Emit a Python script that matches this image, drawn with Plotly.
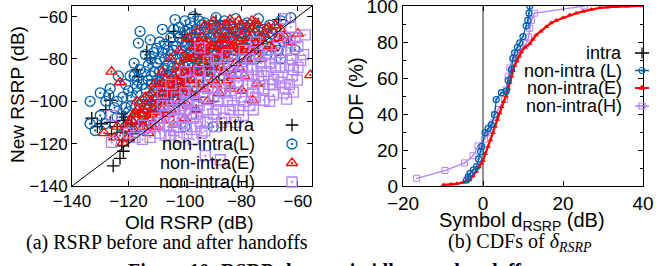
import plotly.graph_objects as go

W, H = 656, 266

# ---------------- data: scatter (a) ----------------
intra_x = [-133, -129.5, -126.5, -126.5, -124, -122.4, -121.2, -121.8, -126, -121.8, -122.4, -120, -123, -125.4, -121.8, -118.3, -118.8, -131, -128,
           -113.5, -112.3, -117, -116.4, -105.8, -104, -101, -100, -96.4, -66.8, -89, -97.6,
           -112, -108, -104, -99, -95, -92, -88, -85, -82, -78, -74, -96, -90, -84, -110, -102]
intra_y = [-108, -110.6, -99.5, -110, -112, -105.9, -107.5, -109, -115.4, -114.6, -121, -118.7, -127, -130.5, -123.6, -115.4, -110.6, -112, -104,
           -76.5, -79.6, -85.2, -88.4, -71.8, -67, -70, -68.5, -59, -61.4, -62, -72,
           -100, -95, -92, -88, -98, -84, -90, -78, -86, -82, -76, -105, -100, -94, -105, -102]

L_pts = [(-133.6, -100), (-130, -106.7), (-131.8, -113.8), (-133.6, -110.6), (-128.3, -110.6), (-124, -107.5), (-123, -116.2),
         (-120, -105), (-126.5, -94), (-123.6, -88), (-119.4, -88), (-116.5, -72.5), (-115.9, -67), (-112.3, -71), (-110, -75),
         (-107.8, -85), (-110, -82), (-103.5, -61.4), (-108, -66), (-100, -62), (-97, -60), (-93, -63), (-89, -60.5), (-86, -64),
         (-82, -61), (-78, -63), (-74, -61), (-70, -64), (-66, -62), (-62.5, -60.5), (-61, -75.7), (-64, -70), (-68, -74), (-71, -78),
         (-66, -80), (-75, -68), (-130, -96), (-128, -100), (-125, -103), (-117, -96), (-121, -92), (-118, -82), (-114, -78),
         (-116, -102), (-115, -92), (-113, -98), (-112, -88), (-110, -94), (-108, -90), (-107, -80), (-106, -96), (-105, -86),
         (-104, -76), (-103, -92), (-102, -82), (-101, -72), (-100, -88), (-99, -78), (-98, -68), (-97, -84), (-96, -74), (-95, -90),
         (-94, -70), (-93, -80), (-92, -66), (-91, -86), (-90, -76), (-89, -70), (-88, -82), (-87, -66), (-86, -74), (-84, -70),
         (-83, -78), (-82, -67), (-80, -72), (-79, -80), (-77, -68), (-76, -76), (-73, -70), (-71, -72), (-69, -68), (-118, -108),
         (-114, -106), (-112, -110), (-109, -104), (-106, -100), (-111, -97), (-108, -77), (-105, -70), (-102, -65), (-99, -73),
         (-96, -66), (-94, -77), (-91, -70), (-88, -74), (-85, -68), (-81, -75), (-78, -71), (-114, -86), (-112, -80), (-109, -91),
         (-106, -83), (-103, -87), (-100, -79), (-97, -93), (-95, -82), (-92, -90), (-89, -86), (-86, -80), (-84, -88), (-101, -97),
         (-104, -100), (-99, -95), (-90, -112), (-100, -112), (-116, -112),
         (-122, -98), (-119, -102), (-117, -90), (-116, -85), (-114, -94), (-113, -83), (-111, -77), (-111, -102), (-109, -86),
         (-109, -72), (-107, -98), (-107, -73), (-106, -88), (-105, -78), (-104, -66), (-104, -95), (-103, -80), (-102, -70),
         (-101, -90), (-100, -74), (-100, -67), (-99, -83), (-98, -76), (-98, -63), (-97, -70), (-96, -80), (-95, -68), (-95, -62),
         (-94, -84), (-93, -74), (-92, -78), (-91, -64), (-90, -82), (-90, -68), (-89, -78), (-88, -64), (-87, -72), (-86, -68),
         (-85, -76), (-84, -64), (-83, -70), (-81, -66), (-80, -78), (-79, -68), (-78, -75), (-77, -64), (-76, -72), (-75, -80),
         (-74, -67), (-72, -66), (-72, -75), (-70, -70), (-68, -66), (-67, -76), (-65, -72), (-120, -95), (-115, -100), (-124, -100),
         (-127, -97), (-118, -88), (-112, -92), (-108, -95), (-119, -110), (-121, -112), (-115, -107), (-110, -100),
         (-113, -90), (-111, -86), (-109, -80), (-107, -88), (-106, -76), (-105, -92), (-104, -84), (-103, -74), (-102, -94),
         (-101, -78), (-100, -84), (-99, -66), (-98, -88), (-97, -78), (-96, -70), (-95, -78), (-94, -64), (-93, -86), (-92, -72),
         (-91, -80), (-90, -64), (-89, -74), (-88, -70), (-87, -80), (-86, -62), (-85, -72), (-83, -66), (-82, -76), (-80, -68),
         (-79, -64), (-117, -93), (-119, -98), (-121, -103), (-113, -104), (-110, -90)]
L_x = [p[0] for p in L_pts]
L_y = [p[1] for p in L_pts]

E_pts = [(-126, -86), (-123, -91), (-128.6, -115), (-122, -119.5), (-124, -112), (-120, -117), (-118, -113), (-116, -110),
         (-115, -104), (-113, -108), (-112, -100), (-111, -113), (-110, -105), (-109, -96), (-108, -109), (-107, -100), (-106, -92),
         (-105, -104), (-104, -88), (-103, -97), (-101, -84), (-100, -94), (-99, -102), (-98, -80), (-97, -90), (-96, -98), (-95, -76),
         (-94, -86), (-93, -94), (-92, -72), (-91, -82), (-90, -90), (-88, -68), (-87, -78), (-86, -86), (-85, -64), (-84, -94),
         (-83, -74), (-82, -82), (-81, -62), (-80, -70), (-79, -88), (-78, -66), (-77, -76), (-75, -63), (-74, -72), (-73, -80),
         (-71, -66), (-69, -75), (-68, -64), (-67, -70), (-65, -69), (-84, -61.4), (-89.9, -62.2), (-76.3, -62), (-70.4, -65),
         (-55.6, -87.6), (-74.5, -91.6), (-79.8, -94.8), (-87, -71), (-73.3, -70), (-81.6, -76.5), (-76, -99.5), (-80, -95),
         (-118, -106), (-114, -98), (-111, -92), (-108, -86), (-105, -80), (-102, -76), (-99, -70), (-96, -67), (-93, -64),
         (-117, -100), (-110, -98), (-107, -94), (-102, -90), (-98, -86), (-94, -80), (-90, -74), (-86, -70), (-96, -104),
         (-92, -100), (-88, -96), (-85, -90), (-100, -108), (-104, -111), (-113, -115), (-125, -117), (-63, -72), (-120, -110),
         (-121, -114), (-119, -109), (-117, -104), (-115, -112), (-114, -102), (-112, -106), (-110, -112), (-109, -100), (-108, -104),
         (-106, -106), (-105, -96), (-104, -92), (-103, -84), (-102, -100), (-101, -88), (-100, -80), (-99, -90), (-98, -96),
         (-97, -74), (-96, -84), (-95, -92), (-94, -70), (-93, -76), (-92, -86), (-91, -66), (-90, -80), (-89, -92), (-88, -74),
         (-87, -84), (-86, -64), (-85, -80), (-84, -68), (-83, -88), (-82, -72), (-81, -84), (-80, -64), (-79, -74), (-78, -80),
         (-77, -70), (-76, -66), (-75, -76), (-74, -64), (-72, -68), (-70, -74), (-66, -66), (-60, -68),
         (-116, -106), (-114, -110), (-112, -96), (-111, -104), (-109, -92), (-107, -90), (-106, -98), (-104, -96), (-103, -90),
         (-101, -94), (-100, -86), (-99, -80), (-97, -86), (-96, -78), (-95, -72), (-93, -82), (-92, -78), (-91, -74), (-89, -84),
         (-88, -78), (-86, -76), (-84, -74), (-82, -66), (-80, -76)]
E_x = [p[0] for p in E_pts]
E_y = [p[1] for p in E_pts]

H_pts = [(-57.4, -68.6), (-62.7, -72.4), (-61.6, -85), (-59, -80.7), (-60.2, -90), (-64.5, -93.8), (-68.7, -97), (-72, -99.5),
         (-61.6, -95.7), (-68.6, -89.7), (-75.8, -104), (-79.3, -106.7), (-84, -104), (-88.7, -112), (-94.6, -109.5), (-99.3, -115.4),
         (-104, -113.8), (-109, -115), (-112.3, -117), (-114.7, -111.4), (-92.8, -125.7), (-87.5, -127.6), (-126, -106.7),
         (-126, -119.4), (-117.7, -117), (-94.7, -74.8), (-91.7, -81), (-64.5, -61), (-66, -77), (-63, -83), (-70, -82), (-72, -88),
         (-66, -91), (-74, -78), (-76, -85), (-78, -92), (-80, -98), (-82, -88), (-84, -95), (-86, -84), (-88, -90), (-90, -98),
         (-92, -104), (-94, -92), (-96, -100), (-98, -106), (-100, -96), (-102, -104), (-104, -108), (-106, -112), (-108, -102),
         (-110, -108), (-80, -80), (-78, -84), (-83, -102), (-86, -108), (-90, -106), (-96, -112), (-101, -110), (-107, -116),
         (-111, -112), (-74, -94), (-70, -92), (-68, -84), (-76, -96), (-82, -110), (-88, -100), (-92, -94), (-98, -90), (-103, -98),
         (-105, -92), (-84, -86), (-87, -94), (-73, -86), (-79, -76), (-75, -72), (-71, -76), (-67, -70), (-60, -74), (-58, -78),
         (-62, -88), (-64, -99), (-70, -100), (-77, -102), (-81, -91), (-93, -114), (-97, -118), (-102, -117), (-115, -118),
         (-108, -96), (-100, -86), (-95, -86), (-89, -80), (-85, -78), (-62.5, -65), (-120, -115),
         (-109, -110), (-107, -106), (-106, -102), (-105, -116), (-103, -112), (-102, -108), (-100, -104), (-99, -100), (-98, -112),
         (-97, -96), (-96, -106), (-95, -102), (-94, -115), (-93, -98), (-92, -110), (-91, -88), (-90, -94), (-89, -104), (-88, -84),
         (-87, -110), (-86, -96), (-85, -100), (-84, -90), (-83, -82), (-82, -96), (-81, -104), (-80, -86), (-79, -100), (-78, -88),
         (-77, -80), (-76, -92), (-75, -98), (-74, -88), (-73, -82), (-72, -94), (-71, -86), (-70, -78), (-69, -92), (-68, -80),
         (-67, -88), (-66, -84), (-65, -96), (-64, -76), (-63, -92), (-62, -80), (-61, -70), (-60, -84), (-97, -108), (-101, -102),
         (-104, -104)]
H_x = [p[0] for p in H_pts]
H_y = [p[1] for p in H_pts]

diag = [-140, -55]

# ---------------- data: CDF (b) ----------------
cL_x = [-4.1, -3.7, -3.25, -2.4, -1.6, -1.1, -0.6, -0.3, 0.5, 1.3, 2.1, 2.9, 3.3, 4.6, 5.8, 6.3, 7.1, 7.5, 7.9, 8.6, 9.2, 10, 10.8, 11.2, 11.5, 11.7]
cL_y = [3.4, 5, 7, 9, 10.8, 15, 19, 22, 29.6, 32, 34, 39.7, 48, 51.8, 52.7, 58.7, 64.8, 71, 74, 77, 79.5, 83, 89, 92, 96, 100]
cE_x = [-9.9, -8, -6.6, -5, -3.3, -2.5, -1.7, -1, -0.4, 0, 0.6, 1.3, 1.9, 2.5, 3, 3.6, 4.2, 4.7, 5.2, 5.8, 6.3, 6.7, 7.1, 7.5, 7.9,
        8.5, 9, 9.6, 10.5, 11.7, 12.5, 13.3, 14.5, 15.8, 17, 18.3, 20, 21.7, 23.3, 25, 27, 29.2, 31, 33.3, 36, 40]
cE_y = [0.6, 1, 1.2, 2, 3.4, 5.5, 8, 10.5, 12.5, 14, 18, 22, 25.5, 29.6, 33, 37, 40.6, 44, 47, 49.9, 54, 57.5, 61, 64, 67,
        69.5, 72, 74.5, 77, 79, 81.5, 83.9, 86, 88.5, 90.5, 92, 93.5, 95, 96, 97, 98, 99, 99.3, 99.6, 99.8, 100]
cH_x = [-16.6, -9.5, -4.6, -2.5, -1.25, 0.4, 1.7, 2.5, 2.9, 3.75, 5.4, 5.8, 6.3, 6.7, 7.5, 8.75, 10.8, 11.4, 11.7, 12.1, 12.9, 25.4]
cH_y = [4.3, 8.6, 12.8, 16.8, 22.3, 26, 29.6, 35, 39.7, 42.5, 48, 53.3, 61, 65.6, 70, 74, 79, 82.8, 87.6, 92, 96, 100]

left_legend = ["intra", "non-intra(L)", "non-intra(E)", "non-intra(H)"]
right_legend = ["intra", "non-intra (L)", "non-intra(E)", "non-intra(H)"]
xticks_a = [-140, -120, -100, -80, -60]
yticks_a = [-140, -120, -100, -80, -60]
xticks_b = [-20, 0, 20, 40]
yticks_b = [0, 20, 40, 60, 80, 100]

# ---------------- style ----------------
BLACK = "#000000"
BLUE = "#0060ad"
RED = "#ff0000"
PURPLE = "#b482fa"
SANS = "Liberation Sans, Arial, sans-serif"
SERIF = "Liberation Serif, Times New Roman, serif"

fig = go.Figure()


def px_x(p):
    return p / W


def px_y(p):
    return 1 - p / H


# scatter (a)
fig.add_trace(go.Scatter(x=intra_x, y=intra_y, mode="markers", xaxis="x", yaxis="y",
                         marker=dict(symbol="cross-thin-open", size=9, color=BLACK, line=dict(width=1.3, color=BLACK))))
fig.add_trace(go.Scatter(x=L_x, y=L_y, mode="markers", xaxis="x", yaxis="y",
                         marker=dict(symbol="circle-open-dot", size=10, color=BLUE, line=dict(width=1.3, color=BLUE))))
fig.add_trace(go.Scatter(x=E_x, y=E_y, mode="markers", xaxis="x", yaxis="y",
                         marker=dict(symbol="triangle-up-open-dot", size=10, color=RED, line=dict(width=1.3, color=RED))))
fig.add_trace(go.Scatter(x=H_x, y=H_y, mode="markers", xaxis="x", yaxis="y",
                         marker=dict(symbol="square-open-dot", size=10, color=PURPLE, line=dict(width=1.3, color=PURPLE))))
fig.add_trace(go.Scatter(x=diag, y=diag, mode="lines", xaxis="x", yaxis="y",
                         line=dict(color=BLACK, width=1)))

# CDF (b)
fig.add_trace(go.Scatter(x=[0, 0], y=[0, 100], mode="lines", xaxis="x2", yaxis="y2",
                         line=dict(color="#222222", width=1)))
fig.add_trace(go.Scatter(x=cH_x, y=cH_y, mode="lines+markers", xaxis="x2", yaxis="y2",
                         line=dict(color=PURPLE, width=1.3),
                         marker=dict(symbol="square-open-dot", size=6, color=PURPLE, line=dict(width=1, color=PURPLE))))
fig.add_trace(go.Scatter(x=cE_x, y=cE_y, mode="lines+markers", xaxis="x2", yaxis="y2",
                         line=dict(color=RED, width=2.2),
                         marker=dict(symbol="triangle-up", size=5, color=RED)))
fig.add_trace(go.Scatter(x=cL_x, y=cL_y, mode="lines+markers", xaxis="x2", yaxis="y2",
                         line=dict(color=BLUE, width=1.3),
                         marker=dict(symbol="circle-open-dot", size=6, color=BLUE, line=dict(width=1.3, color=BLUE))))

# legend keys on a full-figure pixel axis
key_syms = ["cross-thin-open", "circle-open-dot", "triangle-up-open-dot", "square-open-dot"]
key_cols = [BLACK, BLUE, RED, PURPLE]
left_rows = [125, 144, 163, 182]
right_rows = [53, 70.5, 88, 106]
for i in range(4):
    fig.add_trace(go.Scatter(x=[292], y=[left_rows[i]], mode="markers", xaxis="x3", yaxis="y3",
                             marker=dict(symbol=key_syms[i], size=10 if i else 9, color=key_cols[i],
                                         line=dict(width=1.3, color=key_cols[i]))))
rsyms = ["line-ns", "circle-open-dot", "triangle-up", "square-open-dot"]
for i in range(4):
    fig.add_trace(go.Scatter(x=[635, 649], y=[right_rows[i], right_rows[i]], mode="lines", xaxis="x3", yaxis="y3",
                             line=dict(color=key_cols[i], width=1.5 if i != 2 else 2)))
    fig.add_trace(go.Scatter(x=[642], y=[right_rows[i]], mode="markers", xaxis="x3", yaxis="y3",
                             marker=dict(symbol=rsyms[i], size=(8 if i == 0 else (5 if i == 2 else 6)), color=key_cols[i],
                                         line=dict(width=1.2, color=key_cols[i]))))

ann = []
for i in range(4):
    ann.append(dict(x=px_x(257), y=px_y(left_rows[i]), xref="paper", yref="paper", text=left_legend[i],
                    showarrow=False, xanchor="right", yanchor="middle", font=dict(family=SANS, size=18, color=BLACK)))
    ann.append(dict(x=px_x(624), y=px_y(right_rows[i]), xref="paper", yref="paper", text=right_legend[i],
                    showarrow=False, xanchor="right", yanchor="middle", font=dict(family=SANS, size=18, color=BLACK)))

# axis titles
ann.append(dict(x=px_x(189), y=px_y(222), xref="paper", yref="paper", text="Old RSRP (dB)", showarrow=False,
                xanchor="center", yanchor="middle", font=dict(family=SANS, size=19, color=BLACK)))
ann.append(dict(x=px_x(17), y=px_y(95), xref="paper", yref="paper", text="New RSRP (dB)", showarrow=False,
                textangle=-90, xanchor="center", yanchor="middle", font=dict(family=SANS, size=19, color=BLACK)))
ann.append(dict(x=px_x(522), y=px_y(221), xref="paper", yref="paper", text="Symbol d<sub>RSRP</sub> (dB)", showarrow=False,
                xanchor="center", yanchor="middle", font=dict(family=SANS, size=20, color=BLACK)))
ann.append(dict(x=px_x(356), y=px_y(96), xref="paper", yref="paper", text="CDF (%)", showarrow=False,
                textangle=-90, xanchor="center", yanchor="middle", font=dict(family=SANS, size=20, color=BLACK)))

# captions
ann.append(dict(x=px_x(167), y=px_y(242), xref="paper", yref="paper", text="(a) RSRP before and after handoffs",
                showarrow=False, xanchor="center", yanchor="middle", font=dict(family=SERIF, size=20, color=BLACK)))
ann.append(dict(x=px_x(520), y=px_y(242), xref="paper", yref="paper",
                text="(b) CDFs of <i>δ<sub>RSRP</sub></i>",
                showarrow=False, xanchor="center", yanchor="middle", font=dict(family=SERIF, size=20, color=BLACK)))
ann.append(dict(x=px_x(328), y=px_y(271), xref="paper", yref="paper",
                text="<b>Figure 10: RSRP changes in idle-state handoffs</b>",
                showarrow=False, xanchor="center", yanchor="middle", font=dict(family=SERIF, size=20, color=BLACK)))


def axis_style(fs):
    return dict(showline=True, linecolor=BLACK, linewidth=1, mirror="allticks", ticks="inside", ticklen=5,
                tickcolor=BLACK, showgrid=False, zeroline=False, automargin=False, ticklabeloverflow="allow",
                tickfont=dict(family=SANS, size=fs, color=BLACK))


fig.update_layout(
    width=W, height=H, margin=dict(l=0, r=0, t=0, b=0),
    paper_bgcolor="white", plot_bgcolor="rgba(0,0,0,0)", showlegend=False,
    xaxis=dict(domain=[px_x(72), px_x(312)], range=[-140, -55], tickvals=xticks_a, anchor="y", **axis_style(17)),
    yaxis=dict(domain=[px_y(186), px_y(6)], range=[-140, -55], tickvals=yticks_a, anchor="x", **axis_style(17)),
    xaxis2=dict(domain=[px_x(403), px_x(643)], range=[-20, 40], tickvals=xticks_b, anchor="y2", **axis_style(19)),
    yaxis2=dict(domain=[px_y(186), px_y(6)], range=[0, 100], tickvals=yticks_b, anchor="x2",
                minor=dict(ticks="inside", ticklen=3, dtick=10, tickcolor=BLACK), **axis_style(19)),
    xaxis3=dict(domain=[0, 1], range=[0, W], visible=False, anchor="y3", fixedrange=True),
    yaxis3=dict(domain=[0, 1], range=[H, 0], visible=False, anchor="x3", fixedrange=True),
    annotations=ann,
)

fig.write_html("out.html", config={"displayModeBar": False},
               post_script="document.body.style.margin='0';document.body.style.overflow='hidden';")
